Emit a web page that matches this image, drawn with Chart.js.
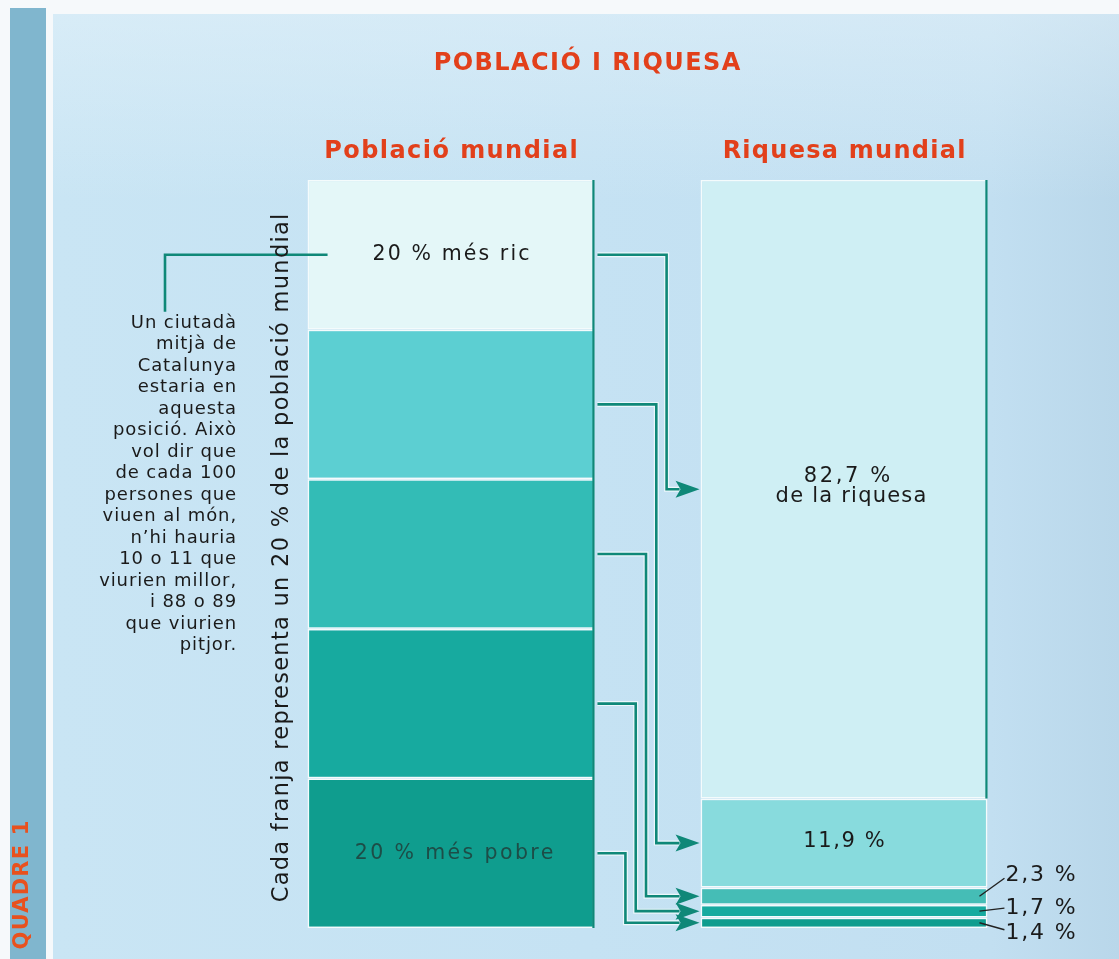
<!DOCTYPE html>
<html>
<head>
<meta charset="utf-8">
<script src="https://cdn.jsdelivr.net/npm/chart.js@4/dist/chart.umd.min.js"></script>
<style>
html,body{margin:0;padding:0;background:#fff;}
canvas{display:block;}
</style>
</head>
<body>
<canvas id="c" width="1119" height="959"></canvas>
<script>
// ---------- DATA ----------
const chartTitle = 'POBLACIÓ I RIQUESA';
const categories = ['Població mundial', 'Riquesa mundial'];
// quintiles, from the poorest (bottom) to the richest (top)
const quintiles = ['20 % més pobre', 'Quart 20 %', 'Tercer 20 %', 'Segon 20 %', '20 % més ric'];
const populationShare = [20, 20, 20, 20, 20];
const wealthShare = [1.4, 1.7, 2.3, 11.9, 82.7];
const wealthLabels = ['1,4 %', '1,7 %', '2,3 %', '11,9 %', '82,7 %'];
const wealthNote = 'de la riquesa';
const axisNote = 'Cada franja representa un 20 % de la població mundial';
const sideNote = [
  'Un ciutadà', 'mitjà de', 'Catalunya', 'estaria en', 'aquesta',
  'posició. Això', 'vol dir que', 'de cada 100', 'persones que',
  'viuen al món,', 'n\u2019hi hauria', '10 o 11 que', 'viurien millor,',
  'i 88 o 89', 'que viurien', 'pitjor.'
];
const boxLabel = 'QUADRE 1';

// ---------- STYLES ----------
const popColors = ['#0f9d8e', '#17aa9f', '#33bcb6', '#5ccfd2', '#e4f7f8'];
const wealthColors = ['#0f9d8e', '#17aa9f', '#45bdb6', '#88dbdd', '#cfeff4'];
const TEAL = '#0f8878';
const ORANGE = '#e2401b';
const FONT = '"DejaVu Sans", sans-serif';

function fitText(ctx, text, x, y, font, width, align) {
  ctx.font = font;
  ctx.letterSpacing = '0px';
  const w0 = ctx.measureText(text).width;
  const n = [...text].length;
  const sp = (width - w0) / n;
  ctx.letterSpacing = sp + 'px';
  ctx.textAlign = align;
  let xx = x;
  if (align === 'center') xx = x + sp / 2;
  else if (align === 'right') xx = x + sp;
  ctx.fillText(text, xx, y);
  ctx.letterSpacing = '0px';
}

const backgroundPlugin = {
  id: 'bg',
  beforeDraw(chart) {
    const ctx = chart.ctx;
    const W = chart.width, H = chart.height;
    ctx.save();
    ctx.fillStyle = '#f6f9fb';
    ctx.fillRect(0, 0, W, H);
    ctx.fillStyle = '#80b6ce';
    ctx.fillRect(10, 8, 36, H - 8);
    const g = ctx.createLinearGradient(53, 0, W, 0);
    g.addColorStop(0, '#c9e5f4');
    g.addColorStop(0.5, '#c5e2f3');
    g.addColorStop(0.88, '#c2dff1');
    g.addColorStop(1, '#b9d7ea');
    ctx.fillStyle = g;
    ctx.fillRect(53, 14, W - 53, H - 14);
    const g2 = ctx.createLinearGradient(0, 14, 0, 200);
    g2.addColorStop(0, 'rgba(230,243,250,0.5)');
    g2.addColorStop(1, 'rgba(230,243,250,0)');
    ctx.fillStyle = g2;
    ctx.fillRect(53, 14, W - 53, 186);
    ctx.restore();
  }
};

function arrowTo(ctx, xv, yStart, yEnd, xStart, xTip) {
  const headLen = 24, half = 8.5;
  const pts = [[xStart, yStart], [xv, yStart], [xv, yEnd], [xTip - headLen + 4, yEnd]];
  ctx.lineJoin = 'miter';
  ctx.lineCap = 'butt';
  ctx.strokeStyle = 'rgba(240,250,252,0.9)';
  ctx.lineWidth = 5;
  ctx.beginPath();
  pts.forEach((p, i) => i ? ctx.lineTo(p[0], p[1]) : ctx.moveTo(p[0], p[1]));
  ctx.stroke();
  ctx.strokeStyle = TEAL;
  ctx.lineWidth = 2.6;
  ctx.beginPath();
  pts.forEach((p, i) => i ? ctx.lineTo(p[0], p[1]) : ctx.moveTo(p[0], p[1]));
  ctx.stroke();
  ctx.fillStyle = TEAL;
  ctx.beginPath();
  ctx.moveTo(xTip, yEnd);
  ctx.lineTo(xTip - headLen, yEnd - half);
  ctx.lineTo(xTip - headLen + 5, yEnd);
  ctx.lineTo(xTip - headLen, yEnd + half);
  ctx.closePath();
  ctx.fill();
}

const annotPlugin = {
  id: 'annot',
  afterDatasetsDraw(chart) {
    const ctx = chart.ctx;
    const xs = chart.scales.x;
    const n = quintiles.length;
    const bands = [];
    for (let i = 0; i < n; i++) {
      const d = chart.getDatasetMeta(i).data;
      const L = d[0], R = d[1];
      bands.push({
        lTop: Math.min(L.y, L.base), lBot: Math.max(L.y, L.base),
        lMid: (L.y + L.base) / 2, lLeft: L.x - L.width / 2, lRight: L.x + L.width / 2,
        rTop: Math.min(R.y, R.base), rBot: Math.max(R.y, R.base),
        rMid: (R.y + R.base) / 2, rLeft: R.x - R.width / 2, rRight: R.x + R.width / 2,
        lx: L.x, rx: R.x
      });
    }
    const top = bands[n - 1], bot = bands[0];
    ctx.save();

    // teal edge lines
    ctx.strokeStyle = TEAL;
    ctx.lineWidth = 2.2;
    ctx.beginPath();
    ctx.moveTo(top.lRight - 1, top.lTop);
    ctx.lineTo(top.lRight - 1, bot.lBot);
    ctx.moveTo(top.rRight - 1, top.rTop);
    ctx.lineTo(top.rRight - 1, top.rBot);
    ctx.stroke();

    // arrows from population bands to wealth bands
    const gap = top.rLeft - top.lRight;
    for (let i = n - 1; i >= 0; i--) {
      const k = n - 1 - i;
      const b = bands[i];
      const xv = b.lRight + gap * (0.68 - k * 0.097);
      arrowTo(ctx, xv, b.lMid, b.rMid, b.lRight + 3, b.rLeft - 1);
    }

    // callout from richest band to side note
    ctx.strokeStyle = TEAL;
    ctx.lineWidth = 2.6;
    ctx.beginPath();
    ctx.moveTo(top.lLeft + 20, top.lMid);
    ctx.lineTo(165, top.lMid);
    ctx.lineTo(165, top.lMid + 57);
    ctx.stroke();

    ctx.textBaseline = 'middle';

    // title & headers
    ctx.fillStyle = ORANGE;
    fitText(ctx, chartTitle, 587, 64, 'bold 24px ' + FONT, 308, 'center');
    fitText(ctx, categories[0], xs.getPixelForValue(0), 152, 'bold 24px ' + FONT, 255, 'center');
    fitText(ctx, categories[1], xs.getPixelForValue(1), 152, 'bold 24px ' + FONT, 244, 'center');

    // band labels (population)
    ctx.fillStyle = '#1a1a1a';
    fitText(ctx, quintiles[n - 1], top.lx, top.lMid, '20.5px ' + FONT, 159, 'center');
    ctx.fillStyle = '#1d4d47';
    fitText(ctx, quintiles[0], bot.lx + 3, bot.lMid, '20.5px ' + FONT, 201, 'center');

    // wealth labels
    ctx.fillStyle = '#1a1a1a';
    fitText(ctx, wealthLabels[4], top.rx + 3, top.rMid - 13, '21px ' + FONT, 89, 'center');
    fitText(ctx, wealthNote, top.rx + 7, top.rMid + 7, '21px ' + FONT, 152, 'center');
    fitText(ctx, wealthLabels[3], bands[3].rx, bands[3].rMid - 2, '21px ' + FONT, 83, 'center');

    // small wealth labels outside the bar with leaders
    const labelOffsets = [11, -3, -21];
    ctx.strokeStyle = '#222';
    ctx.lineWidth = 1.4;
    for (let i = 0; i < 3; i++) {
      const b = bands[i];
      const ly = b.rMid + labelOffsets[i];
      ctx.beginPath();
      ctx.moveTo(b.rRight - 8, b.rMid);
      ctx.lineTo(b.rRight + 17, ly + (i === 2 ? 3 : i === 0 ? -4 : 0));
      ctx.stroke();
      fitText(ctx, wealthLabels[i], b.rRight + 18, ly, '22px ' + FONT, 72, 'left');
    }

    // side note, right aligned
    ctx.fillStyle = '#1a1a1a';
    ctx.font = '18px ' + FONT;
    ctx.letterSpacing = '0.9px';
    ctx.textAlign = 'right';
    sideNote.forEach((line, i) => {
      ctx.fillText(line, 237, 323 + i * 21.5);
    });
    ctx.letterSpacing = '0px';

    // vertical axis note
    ctx.save();
    ctx.translate(282, (top.lTop + bot.lBot) / 2 + 4);
    ctx.rotate(-Math.PI / 2);
    ctx.fillStyle = '#1a1a1a';
    fitText(ctx, axisNote, 0, 0, '22.5px ' + FONT, 690, 'center');
    ctx.restore();

    // box label
    ctx.save();
    ctx.translate(23, 885);
    ctx.rotate(-Math.PI / 2);
    ctx.fillStyle = '#e8511e';
    fitText(ctx, boxLabel, 0, 0, 'bold 21px ' + FONT, 130, 'center');
    ctx.restore();

    ctx.restore();
  }
};

const datasets = quintiles.map((q, i) => ({
  label: q,
  data: [populationShare[i], wealthShare[i]],
  backgroundColor: [popColors[i], wealthColors[i]],
  borderColor: '#f4fbfc',
  borderWidth: 1.6,
  borderSkipped: false,
  categoryPercentage: 0.73,
  barPercentage: 1
}));

new Chart(document.getElementById('c'), {
  type: 'bar',
  data: { labels: categories, datasets },
  options: {
    responsive: false,
    animation: false,
    layout: { padding: { left: 254.5, right: 78.5, top: 180, bottom: 31 } },
    plugins: { legend: { display: false }, tooltip: { enabled: false }, title: { display: false } },
    scales: {
      x: { stacked: true, display: false },
      y: { stacked: true, display: false, min: 0, max: 100 }
    }
  },
  plugins: [backgroundPlugin, annotPlugin]
});
</script>
</body>
</html>
